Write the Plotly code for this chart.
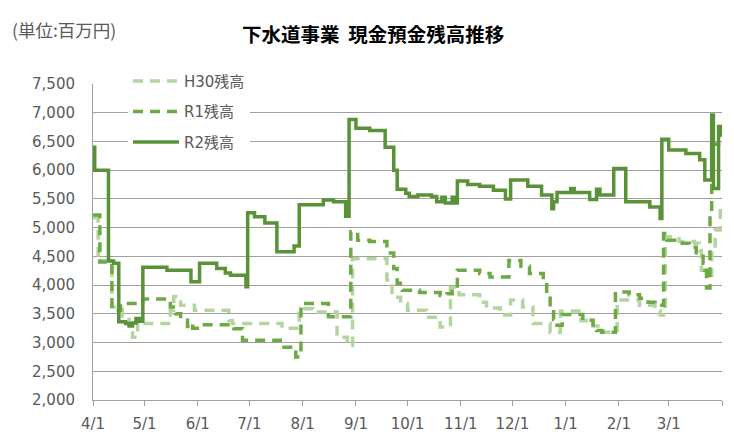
import plotly.graph_objects as go
import pandas as pd

# ---- data: change points (days since 4/1) and balances (百万円) ----
start_date = "2019-04-01"

h30_days = [0, 3, 11, 17, 21, 23, 26, 29, 45, 47, 51, 59, 79, 81, 110, 120, 128, 142, 148, 151,
            171, 174, 179, 183, 194, 202, 208, 213, 225, 229, 237, 243, 250, 256, 266, 272, 284,
            291, 297, 305, 318, 327, 330, 333, 341, 350, 353, 354, 356, 360, 362, 365]
h30_vals = [5170, 4430, 3620, 3460, 3330, 3090, 3360, 3330, 3560, 3800, 3650, 3560, 3380, 3330,
            3250, 3590, 3530, 3090, 2950, 4460, 4090, 3790, 3680, 3560, 3440, 3270, 3960, 3830,
            3700, 3600, 3480, 3740, 3620, 3330, 3180, 3550, 3380, 3290, 3180, 3740, 3650, 3550,
            3480, 4840, 4760, 4730, 4600, 4260, 4170, 4600, 4960, 5340]

r1_days = [0, 4, 11, 16, 29, 45, 48, 51, 55, 57, 58, 62, 82, 87, 109, 115, 118, 121, 137, 150,
           154, 161, 171, 173, 175, 177, 180, 190, 202, 206, 209, 212, 225, 231, 242, 249, 254,
           262, 264, 266, 268, 270, 273, 285, 291, 293, 296, 304, 312, 318, 323, 327, 332, 334,
           340, 347, 351, 355, 356, 357, 359, 360, 365]
r1_vals = [5220, 4400, 3560, 3680, 3760, 3620, 3500, 3390, 3280, 3330, 3250, 3310, 3240, 3040,
           2920, 2830, 2750, 3680, 3450, 4930, 4780, 4760, 4650, 4560, 4290, 4030, 3910, 3870,
           3820, 3850, 3950, 4260, 4200, 4140, 4430, 4330, 4200, 4100, 3850, 3600, 3400, 3300,
           3490, 3390, 3270, 3210, 3180, 3880, 3830, 3770, 3700, 3650, 4900, 4780, 4730, 4660,
           4500, 4380, 4260, 3950, 5200, 6450, 6450]

r2_days = [0, 1, 9, 12, 15, 19, 21, 23, 25, 27, 29, 43, 57, 62, 72, 77, 80, 89, 90, 94, 100, 107,
           117, 120, 134, 140, 147, 149, 153, 161, 170, 175, 177, 182, 184, 189, 197, 200, 203,
           205, 209, 210, 212, 218, 225, 233, 240, 243, 253, 261, 267, 268, 270, 278, 280, 289,
           293, 295, 303, 310, 324, 330, 331, 335, 345, 353, 356, 360, 361, 364, 365]
r2_vals = [6400, 6000, 4420, 4380, 3360, 3330, 3290, 3340, 3420, 3370, 4310, 4260, 4060, 4380,
           4290, 4210, 4170, 3970, 5260, 5190, 5080, 4580, 4680, 5400, 5480, 5450, 5200, 6880,
           6730, 6690, 6400, 6000, 5670, 5600, 5540, 5570, 5540, 5450, 5530, 5430, 5530, 5430,
           5810, 5750, 5720, 5650, 5500, 5830, 5720, 5570, 5330, 5450, 5610, 5680, 5610, 5490,
           5670, 5570, 6030, 5450, 5360, 5160, 6540, 6350, 6290, 6180, 5830, 6960, 5680, 6760,
           6580]

month_ticks = ["2019-04-01", "2019-05-01", "2019-06-01", "2019-07-01", "2019-08-01", "2019-09-01",
               "2019-10-01", "2019-11-01", "2019-12-01", "2020-01-01", "2020-02-01", "2020-03-01",
               "2020-04-01"]
month_labels = ["4/1", "5/1", "6/1", "7/1", "8/1", "9/1", "10/1", "11/1", "12/1", "1/1", "2/1",
                "3/1", ""]

y_ticks = [2000, 2500, 3000, 3500, 4000, 4500, 5000, 5500, 6000, 6500, 7000, 7500]


def to_dates(days):
    return pd.Timestamp(start_date) + pd.to_timedelta(days, unit="D")


FONT = "DejaVu Sans, Noto Sans CJK JP, sans-serif"
JP = "Noto Sans CJK JP, sans-serif"

fig = go.Figure()
fig.add_trace(go.Scatter(x=to_dates(h30_days), y=h30_vals, name="H30残高", mode="lines",
                         line=dict(color="#B5D5A0", width=3.5, dash="10px,7px", shape="hv"),
                         legendgroup="a"))
fig.add_trace(go.Scatter(x=to_dates(r1_days), y=r1_vals, name="R1残高", mode="lines",
                         line=dict(color="#6DAA45", width=3.5, dash="10px,7px", shape="hv"),
                         legendgroup="b"))
fig.add_trace(go.Scatter(x=to_dates(r2_days), y=r2_vals, name="R2残高", mode="lines",
                         line=dict(color="#5A9237", width=3.5, shape="hv"),
                         legendgroup="c"))

fig.update_layout(
    width=726, height=437,
    margin=dict(l=85, r=12, t=76, b=45, autoexpand=False),
    paper_bgcolor="white", plot_bgcolor="white",
    font=dict(family=FONT, size=15, color="#595959"),
    showlegend=True,
    legend=dict(x=0.0556, y=1.061, xanchor="left", yanchor="top", bgcolor="white",
                font=dict(family=FONT, size=15, color="#595959"),
                tracegroupgap=8, traceorder="grouped", itemwidth=46),
    xaxis=dict(type="date", range=["2019-04-01", "2020-04-01"],
               tickmode="array", tickvals=month_ticks, ticktext=month_labels,
               showgrid=False, showline=True, linecolor="#A0A0A0", linewidth=1,
               ticks="outside", ticklen=5, tickcolor="#A0A0A0", ticklabelstandoff=5,
               tickfont=dict(family=FONT, size=15, color="#595959"), zeroline=False),
    yaxis=dict(range=[2000, 7500], tickmode="array", tickvals=y_ticks, tickformat=",",
               showgrid=True, gridcolor="#A0A0A0", gridwidth=1,
               showline=True, linecolor="#A0A0A0", linewidth=1, ticks="",
               ticklabelstandoff=14,
               tickfont=dict(family=FONT, size=15, color="#595959"), zeroline=False),
    annotations=[
        dict(text="<b>下水道事業  現金預金残高推移</b>", xref="paper", yref="paper",
             x=0.445, y=1.161, xanchor="center", yanchor="middle", showarrow=False,
             font=dict(family=JP, size=19.5, color="#000000")),
        dict(text="(単位:百万円)", xref="paper", yref="paper",
             x=-0.132, y=1.171, xanchor="left", yanchor="middle", showarrow=False,
             font=dict(family=JP, size=17.5, color="#595959")),
    ],
)

fig.write_html("out.html")
